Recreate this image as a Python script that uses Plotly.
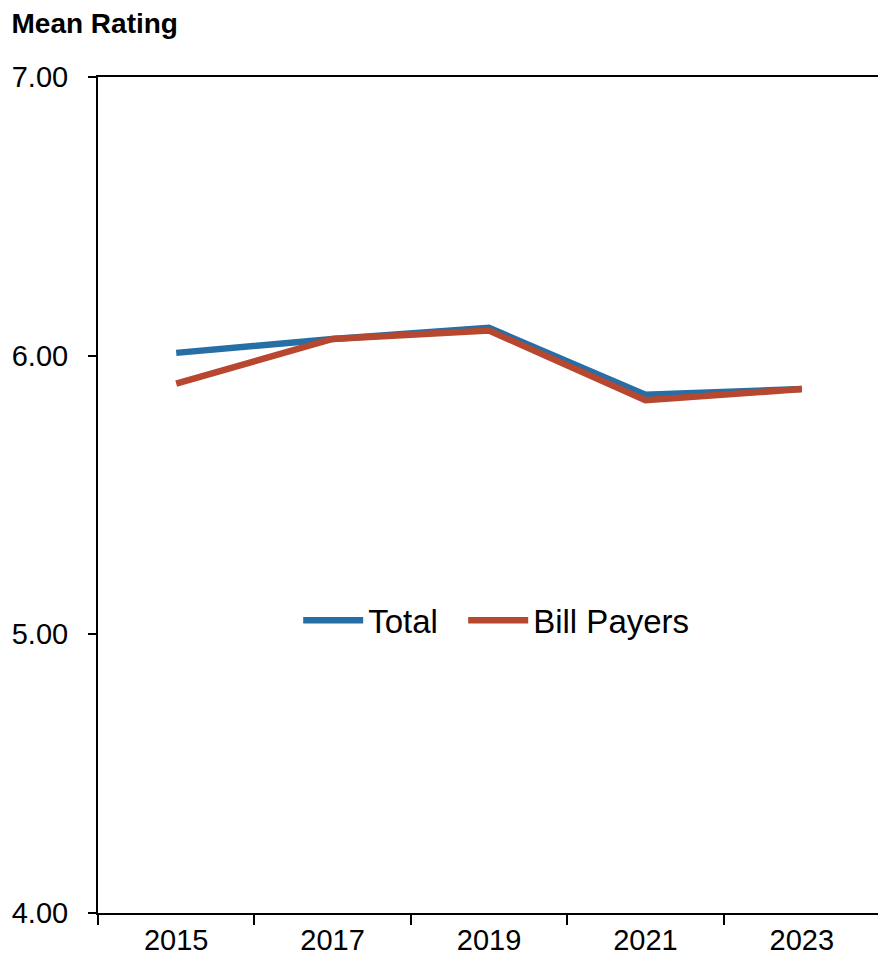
import plotly.graph_objects as go

years = ["2015", "2017", "2019", "2021", "2023"]
total = [6.01, 6.06, 6.10, 5.86, 5.88]
bill_payers = [5.90, 6.06, 6.09, 5.84, 5.88]
y_ticks = [4, 5, 6, 7]
y_tick_labels = ["4.00", "5.00", "6.00", "7.00"]

FONT = "Liberation Sans, Arial, sans-serif"

fig = go.Figure()
fig.add_trace(go.Scatter(x=years, y=total, mode="lines", name="Total",
                         line=dict(color="#256fa6", width=6.5), legend="legend"))
fig.add_trace(go.Scatter(x=years, y=bill_payers, mode="lines", name="Bill Payers",
                         line=dict(color="#b8472f", width=6.5), legend="legend2"))

legend_style = dict(orientation="h", y=0.35, xanchor="left", yanchor="middle",
                    font=dict(size=33, family=FONT, color="black"),
                    bgcolor="rgba(0,0,0,0)", itemwidth=60)

fig.update_layout(
    width=878, height=952,
    margin=dict(l=86, r=4, t=69, b=47),
    paper_bgcolor="white", plot_bgcolor="white",
    font=dict(family=FONT, color="black"),
    title=dict(text="<b>Mean Rating</b>", font=dict(size=28, family=FONT, color="black"),
               xref="container", x=0.004, xanchor="left",
               yref="container", y=1 - 5 / 952, yanchor="top", pad=dict(t=0, l=0)),
    legend=dict(x=0.256, **legend_style),
    legend2=dict(x=0.467, **legend_style),
    showlegend=True,
)
fig.update_xaxes(
    type="category", range=[-0.5, 4.5], tickson="boundaries",
    showline=True, linecolor="black", linewidth=2, mirror=True,
    ticks="outside", ticklen=10, tickwidth=2, tickcolor="black",
    showgrid=False, zeroline=False,
    tickfont=dict(size=29, family=FONT, color="black"),
)
fig.update_yaxes(
    range=[4, 7], tickvals=y_ticks, ticktext=y_tick_labels,
    showline=True, linecolor="black", linewidth=2, mirror=True,
    ticks="outside", ticklen=8, tickwidth=2, tickcolor="black",
    showgrid=False, zeroline=False, ticklabelstandoff=14,
    tickfont=dict(size=29, family=FONT, color="black"),
)

fig.write_html("out.html")
